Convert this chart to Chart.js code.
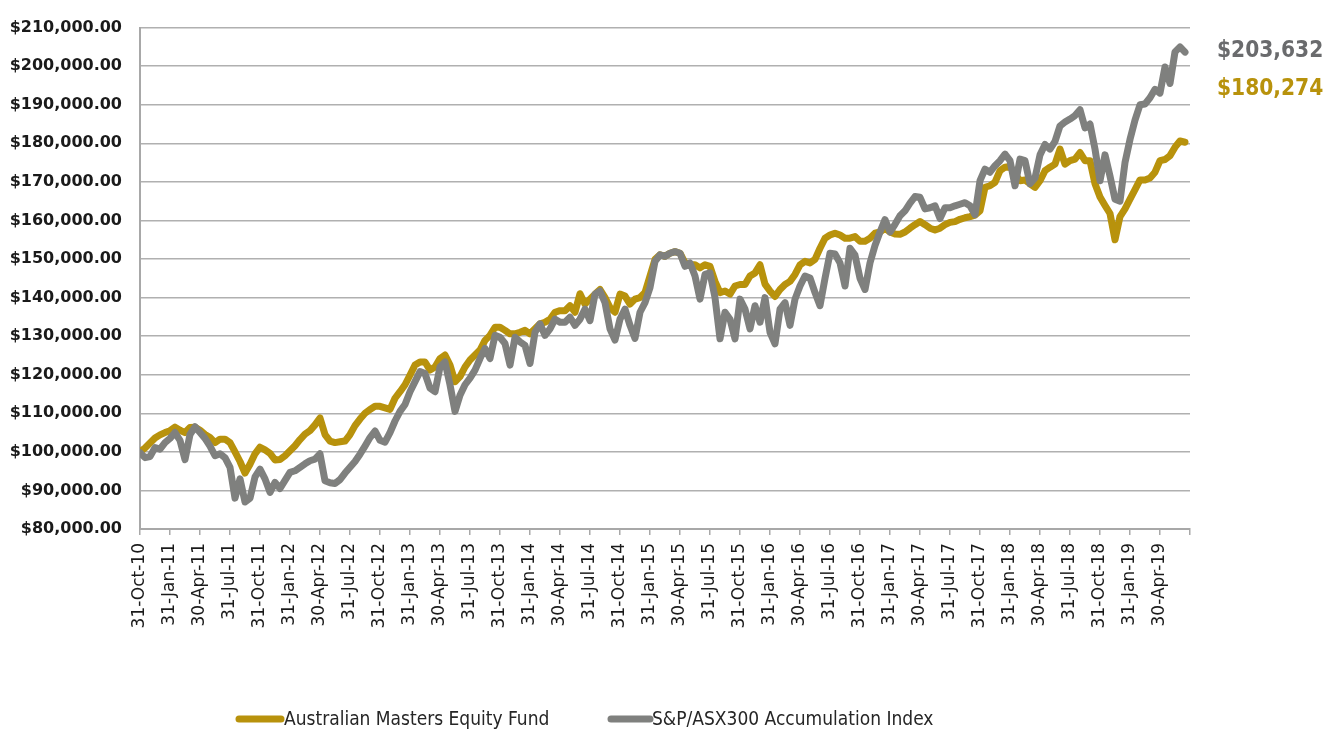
<!DOCTYPE html>
<html>
<head>
<meta charset="utf-8">
<script src="https://cdn.jsdelivr.net/npm/chart.js@4.4.0/dist/chart.umd.min.js"></script>
<style>
  html, body { margin: 0; padding: 0; background: #fff; }
  #wrap { width: 1327px; height: 729px; position: relative; }
</style>
</head>
<body>
<div id="wrap"><canvas id="chart" width="1327" height="729"></canvas></div>
<script>
// quarter-end tick labels, one every 3 months from 31-Oct-10
const quarterLabels = [
  '31-Oct-10', '31-Jan-11', '30-Apr-11', '31-Jul-11', '31-Oct-11', '31-Jan-12', '30-Apr-12',
  '31-Jul-12', '31-Oct-12', '31-Jan-13', '30-Apr-13', '31-Jul-13', '31-Oct-13', '31-Jan-14',
  '30-Apr-14', '31-Jul-14', '31-Oct-14', '31-Jan-15', '30-Apr-15', '31-Jul-15', '31-Oct-15',
  '31-Jan-16', '30-Apr-16', '31-Jul-16', '31-Oct-16', '31-Jan-17', '30-Apr-17', '31-Jul-17',
  '31-Oct-17', '31-Jan-18', '30-Apr-18', '31-Jul-18', '31-Oct-18', '31-Jan-19', '30-Apr-19'
];

// values in $ thousands, one reading every half month from Oct-10
const fundValues = [
  100.0, 101.0, 102.3, 103.6, 104.4, 105.0, 105.5, 106.4, 105.6, 105.0,
  106.3, 106.4, 105.6, 104.5, 103.7, 102.4, 103.3, 103.3, 102.4, 100.0,
  97.5, 94.5, 96.8, 99.5, 101.2, 100.5, 99.6, 97.9, 98.0, 99.0,
  100.3, 101.6, 103.2, 104.6, 105.5, 107.0, 108.8, 104.5, 102.8, 102.4,
  102.6, 102.8, 104.5, 106.8, 108.5, 110.0, 111.0, 111.8, 111.8, 111.4,
  111.0, 113.9, 115.6, 117.4, 119.9, 122.5, 123.3, 123.3, 121.2, 122.0,
  124.2, 125.1, 122.5, 118.2, 119.5, 122.0, 123.8, 125.1, 126.4, 128.9,
  130.2, 132.3, 132.3, 131.5, 130.6, 130.6, 131.0, 131.5, 130.6, 131.9,
  133.2, 133.6, 134.4, 136.2, 136.6, 136.6, 137.9, 136.2, 141.0, 138.3,
  139.6, 140.9, 142.1, 140.0, 137.4, 136.2, 140.9, 140.4, 138.3, 139.6,
  140.0, 141.3, 145.6, 149.9, 151.1, 150.7, 151.5, 151.9, 151.5, 149.0,
  148.5, 148.5, 147.7, 148.5, 148.1, 144.2, 141.3, 141.7, 140.9, 143.0,
  143.4, 143.4, 145.6, 146.4, 148.5, 143.5, 141.7, 140.3, 142.1, 143.4,
  144.2, 146.0, 148.5, 149.4, 149.0, 149.9, 152.8, 155.4, 156.2, 156.7,
  156.2, 155.4, 155.4, 155.8, 154.6, 154.6, 155.4, 156.7, 157.0, 158.0,
  157.0, 156.5, 156.4, 157.0, 158.0, 158.9, 159.7, 158.9, 158.0, 157.5,
  158.0, 158.9, 159.5, 159.7, 160.3, 160.7, 161.0, 161.4, 162.5, 168.6,
  169.0, 169.9, 172.9, 173.8, 174.0, 172.0, 170.3, 170.5, 169.5, 168.6,
  170.3, 172.9, 173.8, 174.6, 178.5, 174.6, 175.5, 175.9, 177.6, 175.5,
  175.5, 169.5, 166.1, 163.9, 161.8, 155.0, 161.0, 163.0, 165.5, 168.0,
  170.5, 170.5, 171.0, 172.5, 175.5, 175.8, 176.8, 179.0, 180.6, 180.274
];

const indexValues = [
  99.8, 98.5, 98.8, 101.1, 100.7, 102.4, 103.5, 105.0, 103.0, 98.0,
  104.5, 106.5, 105.0, 103.5, 101.5, 99.0, 99.5, 98.5, 96.0, 88.0,
  93.0, 87.0, 88.0, 93.5, 95.5, 93.0, 89.5, 92.1, 90.5, 92.6,
  94.7, 95.1, 96.0, 96.9, 97.7, 98.1, 99.5, 92.5, 92.0, 91.8,
  92.8, 94.5, 96.0, 97.5, 99.4, 101.5, 103.7, 105.4, 103.0, 102.5,
  105.0, 108.0, 110.5, 112.3, 115.6, 118.2, 120.8, 120.3, 116.5, 115.6,
  122.0, 123.3, 117.4, 110.5, 114.7, 117.4, 119.1, 121.2, 124.2, 126.8,
  124.2, 130.2, 129.7, 128.1, 122.5, 129.7, 128.5, 127.6, 122.9, 131.0,
  133.2, 130.2, 131.9, 134.4, 133.6, 133.6, 134.9, 132.8, 134.4, 137.0,
  134.0, 140.9, 141.7, 138.7, 131.9, 129.0, 134.4, 137.0, 132.8, 129.4,
  136.2, 138.7, 142.6, 149.4, 151.1, 150.7, 151.5, 151.9, 151.5, 148.1,
  149.0, 145.6, 139.6, 146.0, 146.4, 140.0, 129.3, 136.2, 134.4, 129.3,
  139.6, 137.0, 131.9, 137.9, 133.6, 140.0, 131.0, 128.0, 137.0, 138.7,
  132.8, 139.6, 143.0, 145.6, 145.1, 141.3, 137.9, 145.0, 151.5, 151.3,
  149.0, 143.0, 152.8, 151.0, 145.0, 142.1, 149.0, 153.5, 157.0, 160.2,
  157.0, 159.0, 161.2, 162.5, 164.5, 166.2, 166.0, 163.0, 163.3, 163.8,
  160.5, 163.3, 163.3, 163.8, 164.2, 164.6, 163.8, 161.5, 170.3, 173.3,
  172.5, 174.2, 175.5, 177.2, 175.5, 169.0, 175.9, 175.5, 169.5, 171.0,
  177.0, 179.7, 178.5, 180.5, 184.5, 185.5, 186.3, 187.2, 188.7, 184.0,
  185.0, 178.5, 170.3, 177.0, 171.5, 165.5, 165.0, 175.0, 181.0, 186.0,
  190.0, 190.2, 191.8, 194.0, 193.0, 199.8, 195.5, 203.7, 205.0, 203.632
];

const seriesNames = ['Australian Masters Equity Fund', 'S&P/ASX300 Accumulation Index'];
const endLabels = ['$203,632', '$180,274'];

const GOLD = '#B8920C';
const GREY = '#7F807E';

const STEP = 0.5; // months between readings
const toPoints = arr => arr.map((v, i) => ({ x: i * STEP, y: v }));

// legend + final value labels
const extras = {
  id: 'extras',
  afterDraw(chart) {
    const ctx = chart.ctx;
    ctx.save();
    ctx.lineCap = 'round';
    ctx.lineWidth = 7;
    ctx.textBaseline = 'middle';
    ctx.font = '19px "DejaVu Sans Condensed"';
    ctx.fillStyle = '#262626';

    ctx.strokeStyle = GOLD;
    ctx.beginPath(); ctx.moveTo(239, 719); ctx.lineTo(281, 719); ctx.stroke();
    ctx.fillText(seriesNames[0], 284, 720);

    ctx.strokeStyle = GREY;
    ctx.beginPath(); ctx.moveTo(611, 719); ctx.lineTo(650, 719); ctx.stroke();
    ctx.fillText(seriesNames[1], 652, 720);

    ctx.font = 'bold 22.5px "DejaVu Sans Condensed"';
    ctx.fillStyle = '#6A6B6D';
    ctx.fillText(endLabels[0], 1217, 51);
    ctx.fillStyle = GOLD;
    ctx.fillText(endLabels[1], 1217, 89);
    ctx.restore();
  }
};

new Chart(document.getElementById('chart'), {
  type: 'line',
  data: {
    datasets: [
      {
        label: seriesNames[0],
        data: toPoints(fundValues),
        borderColor: GOLD,
        borderWidth: 7,
        order: 1
      },
      {
        label: seriesNames[1],
        data: toPoints(indexValues),
        borderColor: GREY,
        borderWidth: 7,
        order: 0
      }
    ]
  },
  options: {
    responsive: false,
    animation: false,
    elements: {
      point: { radius: 0 },
      line: { tension: 0, borderJoinStyle: 'round', borderCapStyle: 'round', fill: false }
    },
    layout: { padding: { left: 0, right: 137, top: 22, bottom: 0 } },
    plugins: {
      legend: { display: false },
      tooltip: { enabled: false }
    },
    scales: {
      x: {
        type: 'linear',
        min: 0,
        max: 105,
        afterBuildTicks(scale) {
          const t = [];
          for (let m = 0; m <= 105; m += 3) t.push({ value: m });
          scale.ticks = t;
        },
        afterFit(scale) { scale.height = 200; },
        ticks: {
          autoSkip: false,
          minRotation: 90,
          maxRotation: 90,
          padding: 8,
          color: '#1a1a1a',
          font: { family: 'DejaVu Sans', size: 17 },
          callback: v => quarterLabels[v / 3] || ''
        },
        grid: {
          drawOnChartArea: false,
          drawTicks: true,
          tickLength: 6,
          color: '#A8A8A8',
          lineWidth: 1.5
        },
        border: { color: '#A8A8A8', width: 2 }
      },
      y: {
        min: 80,
        max: 210,
        afterFit(scale) { scale.width = 140; },
        ticks: {
          stepSize: 10,
          padding: 18,
          color: '#1a1a1a',
          font: { family: 'DejaVu Sans', size: 16, weight: 'bold' },
          callback: v => '$' + v + ',000.00'
        },
        grid: { color: '#B0B0B0', lineWidth: 1.5, drawTicks: false },
        border: { color: '#A8A8A8', width: 2 }
      }
    }
  },
  plugins: [extras]
});
</script>
</body>
</html>
